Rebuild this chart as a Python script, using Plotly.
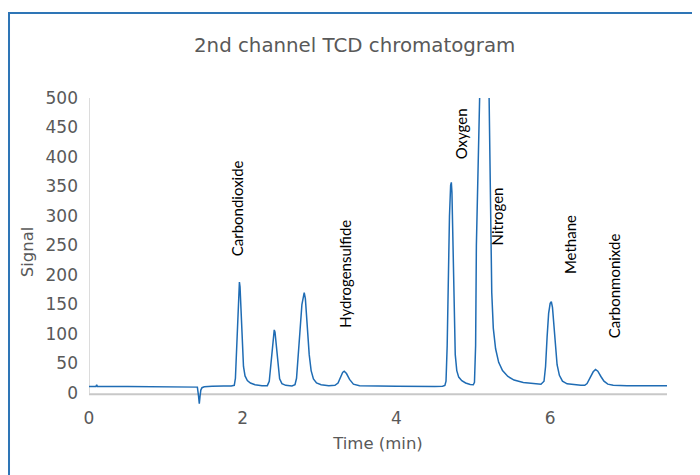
import plotly.graph_objects as go

# Chromatogram trace (time in min, signal)
time_min = [
    0.0, 0.09, 0.10, 0.11, 0.5, 1.0, 1.38, 1.41, 1.425, 1.435, 1.445, 1.455, 1.47, 1.5, 1.6, 1.7, 1.75, 1.85,
    1.89, 1.905, 1.92, 1.935, 1.95, 1.957, 1.965, 1.98, 1.995, 2.01, 2.03, 2.06, 2.1, 2.16, 2.25, 2.32,
    2.345, 2.36, 2.38, 2.40, 2.41, 2.42, 2.44, 2.46, 2.48, 2.51, 2.56, 2.64,
    2.68, 2.70, 2.72, 2.745, 2.77, 2.79, 2.80, 2.815, 2.84, 2.865, 2.89, 2.92, 2.96, 3.02, 3.12,
    3.2, 3.24, 3.27, 3.30, 3.32, 3.35, 3.39, 3.44, 3.52, 3.65,
    4.0, 4.5, 4.6, 4.63, 4.645, 4.66, 4.675, 4.69, 4.705, 4.714, 4.722, 4.735, 4.75, 4.765, 4.785, 4.81,
    4.85, 4.9, 4.96, 5.0,
    5.015, 5.03, 5.04, 5.05, 5.06, 5.1, 5.15, 5.19, 5.205, 5.22, 5.24, 5.26, 5.29, 5.33, 5.38, 5.45,
    5.53, 5.65, 5.78, 5.88,
    5.92, 5.94, 5.96, 5.98, 6.0, 6.015, 6.03, 6.05, 6.07, 6.09, 6.12, 6.16, 6.22, 6.3, 6.4,
    6.45, 6.48, 6.52, 6.56, 6.59, 6.62, 6.66, 6.7, 6.75, 6.82, 7.0, 7.52,
]
signal = [
    11, 11, 14, 11, 11, 11, 11, 10, -5, -18, -5, 5, 9, 10.5, 11.5, 12.5, 12, 12,
    13, 25, 70, 140, 184, 188, 180, 130, 75, 45, 29, 21, 17, 14, 12.5, 12.5,
    20, 40, 75, 102, 107, 103, 75, 42, 24, 16, 13, 12,
    14, 25, 55, 105, 150, 169, 170, 160, 115, 65, 38, 24, 17, 14, 12.5,
    13, 17, 26, 35, 37, 33, 23, 15, 12.5, 12,
    11.5, 11, 11.5, 13, 20, 80, 200, 300, 352, 357, 340, 250, 130, 65, 38, 27,
    21, 17, 14.5, 14,
    18, 80, 250, 450, 650, 900, 900, 650, 480, 300, 170, 110, 75, 52, 38, 28,
    22, 18, 16, 15,
    20, 45, 95, 135, 152, 155, 145, 110, 75, 48, 30, 20, 15.5, 14, 13,
    13, 16, 26, 36, 40, 37, 28, 20, 15, 13, 12.5, 12.5,
]

# Peak labels
peak_names = ["Carbondioxide", "Hydrogensulfide", "Oxygen", "Nitrogen", "Methane", "Carbonmonixde"]
label_time = [1.93, 3.33, 4.84, 5.31, 6.25, 6.84]
label_base = [229, 107, 392, 247, 198, 90]

x_ticks = [0, 2, 4, 6]
y_ticks = [0, 50, 100, 150, 200, 250, 300, 350, 400, 450, 500]

AX_FONT = "DejaVu Sans"
GREY = "#595959"

fig = go.Figure()
fig.add_trace(go.Scatter(
    x=time_min, y=signal, mode="lines",
    line=dict(color="#1f6cb4", width=1.5),
    showlegend=False, hoverinfo="skip",
))

for name, tx, ty in zip(peak_names, label_time, label_base):
    fig.add_annotation(
        x=tx, y=ty, xref="x", yref="y", text=name, showarrow=False,
        textangle=-90, xanchor="center", yanchor="bottom",
        font=dict(family="Lato, Open Sans", size=15, color="#000000"),
    )

# axis lines drawn at the data zero / start
fig.add_shape(type="line", xref="x", yref="y", x0=0, x1=7.52, y0=-2, y1=-2,
              line=dict(color="#c8c8c8", width=2), layer="between")
fig.add_shape(type="line", xref="x", yref="y", x0=0, x1=0, y0=-2, y1=500,
              line=dict(color="#d0d0d0", width=1.5), layer="between")
# outer frame
fig.add_shape(type="rect", xref="paper", yref="paper", x0=-0.1384, x1=1.10, y0=-0.30, y1=1.276,
              line=dict(color="#2e75b6", width=2), fillcolor="rgba(0,0,0,0)", layer="below")

fig.update_layout(
    width=692, height=467,
    margin=dict(l=81, r=33, t=90, b=69, autoexpand=False),
    paper_bgcolor="white", plot_bgcolor="white",
    title=dict(text="2nd channel TCD chromatogram", x=0.501, xref="container", xanchor="center",
               y=0.921, yref="container", yanchor="middle",
               font=dict(family=AX_FONT, size=19.8, color=GREY)),
    xaxis=dict(range=[0, 7.52], tickvals=x_ticks, showgrid=False, zeroline=False, showline=False,
               automargin=False, ticks="", tickfont=dict(family=AX_FONT, size=17, color=GREY),
               title=dict(text="Time (min)", font=dict(family=AX_FONT, size=16.5, color=GREY), standoff=10)),
    yaxis=dict(range=[-22, 500], tickvals=y_ticks, showgrid=False, zeroline=False, showline=False,
               automargin=False, ticks="", ticklabelstandoff=10,
               tickfont=dict(family=AX_FONT, size=17, color=GREY),
               title=dict(text="Signal", font=dict(family=AX_FONT, size=16.5, color=GREY), standoff=7)),
)

fig.write_html("out.html")
